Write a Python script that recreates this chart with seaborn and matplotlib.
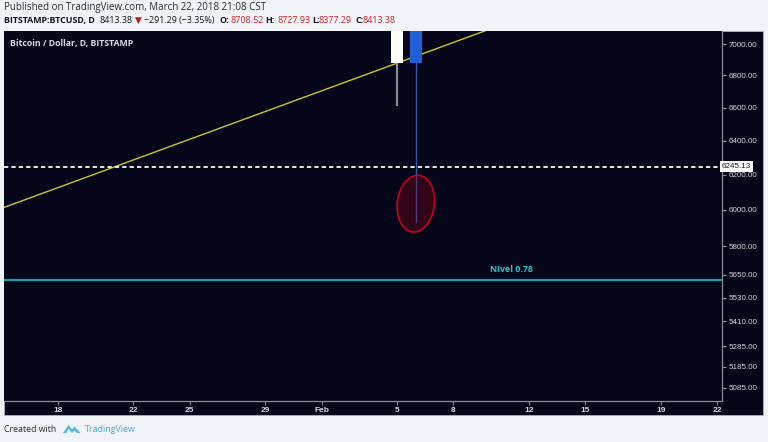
import numpy as np
import pandas as pd
import matplotlib
matplotlib.use("Agg")
import matplotlib.pyplot as plt
import matplotlib.dates as mdates
from matplotlib.patches import Rectangle, Ellipse, Polygon
from matplotlib.transforms import Affine2D, IdentityTransform, blended_transform_factory
from matplotlib.ticker import NullLocator, FixedLocator, FixedFormatter
import seaborn as sns

# ---------------- data ----------------
candle_dates = ["2018-02-05", "2018-02-06"]
candle_open = [8200.0, 6881.0]
candle_close = [6877.0, 7700.0]
candle_high = [8390.0, 7850.0]
candle_low = [6607.0, 5925.0]
candle_colors = ["#ffffff", "#1f5fd8"]
wick_colors = ["#8c8c8c", "#2f5cb0"]

trend_dates = ["2018-01-15 03:36", "2018-02-12 00:00"]
trend_prices = [6014.0, 7195.0]

last_price = 6245.13
fib_level = 5621.0
fib_label = "NIvel 0.78"
fib_label_date = "2018-02-11 02:00"
fib_label_price = 5674.0

marked_date = "2018-02-06"
marked_price = 6035.0

price_ticks = [7000, 6800, 6600, 6400, 6200, 6000, 5800, 5650, 5530, 5410, 5285, 5185, 5085]
date_ticks = ["2018-01-18", "2018-01-22", "2018-01-25", "2018-01-29", "2018-02-01",
              "2018-02-05", "2018-02-08", "2018-02-12", "2018-02-15", "2018-02-19", "2018-02-22"]
date_tick_labels = ["18", "22", "25", "29", "Feb", "5", "8", "12", "15", "19", "22"]

x_range = ["2018-01-15 03:36", "2018-02-22 06:00"]
y_range = [5022.6, 7087.0]

header_line1 = "Published on TradingView.com, March 22, 2018 21:08 CST"
header_pieces = [  # text, x-pixel, bold, color
    ("BITSTAMP:BTCUSD, D", 4, True, "#131722"),
    ("8413.38", 99, False, "#131722"),
    ("\u25BC", 134.5, False, "#b71c1c"),
    ("\u2212291.29 (\u22123.35%)", 144, False, "#131722"),
    ("O:", 219, True, "#131722"),
    ("8708.52", 230.5, False, "#c62828"),
    ("H:", 265, True, "#131722"),
    ("8727.93", 277.5, False, "#c62828"),
    ("L:", 312, True, "#131722"),
    ("8377.29", 318.5, False, "#c62828"),
    ("C:", 355, True, "#131722"),
    ("8413.38", 362.5, False, "#c62828"),
]
chart_title = "Bitcoin / Dollar, D, BITSTAMP"

# ---------------- style ----------------
sns.set_theme(style="dark")
plt.rcParams["font.family"] = ["Open Sans", "DejaVu Sans"]

W, H = 768, 442
BG = "#06061a"
fig = plt.figure(figsize=(W / 100, H / 100), dpi=100, facecolor="#f0f3f7")
PX = Affine2D().scale(1 / W, -1 / H).translate(0, 1) + fig.transFigure

# dark chart panel
fig.patches.append(Rectangle((4, 31), 759, 384, transform=PX, facecolor=BG,
                             edgecolor="#aeb2ba", lw=0.6, zorder=-5))

ax = fig.add_axes([4 / W, 41 / H, 718 / W, 370 / H], zorder=2)
ax.set_facecolor(BG)
ax.set_yscale("log")

xnum = mdates.date2num(pd.to_datetime(candle_dates))
ax.set_xlim(mdates.date2num(pd.to_datetime(x_range)))
ax.set_ylim(y_range)

# trend line
tx = mdates.date2num(pd.to_datetime(trend_dates))
sns.lineplot(x=tx, y=trend_prices, ax=ax, color="#c9c91e", lw=1.0, zorder=2)

# candles
for i in range(len(xnum)):
    ax.vlines(xnum[i], candle_low[i], candle_high[i], color=wick_colors[i],
              lw=1.6 if i == 0 else 1.0, zorder=3)
    lo = min(candle_open[i], candle_close[i])
    hi = max(candle_open[i], candle_close[i])
    ax.bar(xnum[i], hi - lo, bottom=lo, width=0.65, color=candle_colors[i],
           edgecolor="none", zorder=4)

# last price dashed line
ax.axhline(last_price, color="#e6e6e6", lw=1.4, ls=(0, (2.2, 1.6)), zorder=5)
# fib level
ax.axhline(fib_level, color="#1a9ea6", lw=1.6, zorder=5)
ax.text(mdates.date2num(pd.Timestamp(fib_label_date)), fib_label_price, fib_label,
        color="#22c4d4", fontsize=6.4, fontweight="bold", ha="center", va="center", zorder=6)

# ellipse marker
fig.canvas.draw()
cx, cy = ax.transData.transform((mdates.date2num(pd.Timestamp(marked_date)), marked_price))
ell = Ellipse((cx, cy), 37, 57, angle=-7, transform=IdentityTransform(),
              facecolor=(0.55, 0.0, 0.08, 0.32), edgecolor="#c4001c", lw=1.2, zorder=7)
ax.add_patch(ell)

# axes styling
for s in ["top", "left"]:
    ax.spines[s].set_visible(False)
for s in ["right", "bottom"]:
    ax.spines[s].set_visible(True)
    ax.spines[s].set_color("#8b8e98")
    ax.spines[s].set_linewidth(0.9)
ax.grid(False)

ax.yaxis.tick_right()
ax.yaxis.set_minor_locator(NullLocator())
ax.yaxis.set_major_locator(FixedLocator(price_ticks))
ax.yaxis.set_major_formatter(FixedFormatter([f"{v:.2f}" for v in price_ticks]))
ax.tick_params(axis="y", which="major", right=True, left=False, length=3, width=0.8,
               color="#8b8e98", labelcolor="#cfd2d8", labelsize=5.8, pad=2)
for lab in ax.get_yticklabels():
    lab.set_family(["Liberation Sans", "DejaVu Sans"])

dt = mdates.date2num(pd.to_datetime(date_ticks))
ax.xaxis.set_minor_locator(NullLocator())
ax.xaxis.set_major_locator(FixedLocator(dt))
ax.xaxis.set_major_formatter(FixedFormatter(date_tick_labels))
ax.tick_params(axis="x", which="major", bottom=True, length=3, width=0.8,
               color="#8b8e98", labelcolor="#d4d6dc", labelsize=6.0, pad=1.5)
for lab in ax.get_xticklabels():
    lab.set_family(["Liberation Sans", "DejaVu Sans"])
    lab.set_fontweight("bold")
ax.set_xlabel("")
ax.set_ylabel("")

# last price tag
ax.text(1.0, last_price, "6245.13", transform=blended_transform_factory(ax.transAxes, ax.transData),
        ha="left", va="center", fontsize=5.8, color="#131722", family=["Liberation Sans", "DejaVu Sans"],
        bbox=dict(boxstyle="square,pad=0.25", facecolor="white", edgecolor="none"),
        clip_on=False, zorder=10)

# chart title
fig.text(10, 43.5, chart_title, transform=PX, color="#d9dbe0", fontsize=6.3,
         fontweight="bold", ha="left", va="center", zorder=5)

# header
fig.text(4, 7.5, header_line1, transform=PX, color="#2a2e39", fontsize=7.05, ha="left", va="center")
for txt, xp, bold, col in header_pieces:
    fig.text(xp, 20.5, txt, transform=PX, color=col, fontsize=6.4,
             fontweight="bold" if bold else "normal", ha="left", va="center",
             family=["Open Sans", "DejaVu Sans"])

# footer
fig.text(4, 429, "Created with", transform=PX, color="#2a2e39", fontsize=6.3, ha="left", va="center")
logo = [(63, 433), (68.5, 425), (72, 429.5), (74.5, 426.5), (80.5, 433), (77, 433),
        (74.5, 430.5), (72, 433), (68.5, 428.5), (66.5, 433)]
fig.patches.append(Polygon(logo, closed=True, transform=PX, facecolor="#4fb6e6",
                           edgecolor="none", zorder=1))
fig.text(85, 429.5, "TradingView", transform=PX, color="#3aaee0", fontsize=6.4,
         ha="left", va="center")

fig.savefig("out.png", dpi=100, facecolor=fig.get_facecolor())
